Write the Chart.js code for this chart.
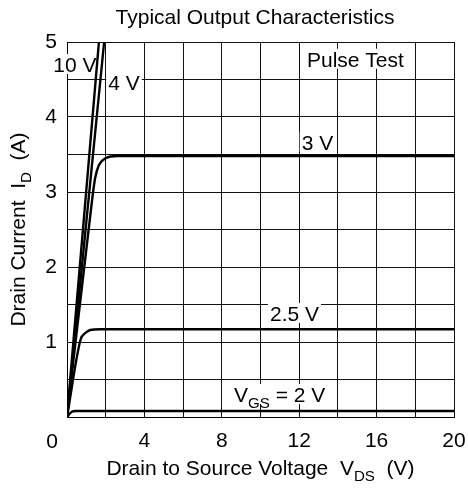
<!DOCTYPE html>
<html>
<head>
<meta charset="utf-8">
<script src="https://cdn.jsdelivr.net/npm/chart.js@4"></script>
<style>
  body { margin: 0; background: #fff; }
  canvas { display: block; }
</style>
</head>
<body>
<canvas id="chart" width="468" height="488"></canvas>
<script>
// curves (VDS in V, ID in A)
const vds10 = [0, 1.65];
const id10 = [0, 5];
const vds4 = [0, 1.92];
const id4 = [0, 5];
const vds3 = [0, 1.3, 1.45, 1.65, 2.0, 2.6, 20];
const id3 = [0, 2.9, 3.18, 3.36, 3.45, 3.48, 3.48];
const vds25 = [0, 0.7, 0.95, 1.2, 1.7, 20];
const id25 = [0, 1.03, 1.12, 1.16, 1.17, 1.17];
const vds2 = [0, 0.25, 0.45, 20];
const id2 = [0, 0.07, 0.08, 0.08];

const xTicks = [4, 8, 12, 16, 20];
const yTicks = [1, 2, 3, 4, 5];

const FONT = '"Liberation Sans", Arial, sans-serif';
const SIZE = 21;

function pts(xs, ys) {
  return xs.map((x, i) => ({ x, y: ys[i] }));
}

function curve(label, xs, ys) {
  return {
    label,
    data: pts(xs, ys),
    borderColor: "#000",
    borderWidth: 2.4,
    pointRadius: 0,
    showLine: true,
    fill: false,
    cubicInterpolationMode: "monotone",
  };
}

// curve labels: text runs [text, subscript?], anchor in data units (left, baseline)
const notes = [
  { runs: [["10 V"]], x: -0.71, y: 4.6 },
  { runs: [["4 V"]], x: 2.13, y: 4.36 },
  { runs: [["3 V"]], x: 12.13, y: 3.56 },
  { runs: [["2.5 V"]], x: 10.49, y: 1.28 },
  { runs: [["V"], ["GS", true], [" = 2 V"]], x: 8.63, y: 0.2 },
  { runs: [["Pulse Test"]], x: 12.4, y: 4.67 },
];

function runWidth(ctx, runs, size) {
  let w = 0;
  runs.forEach(([t, sub]) => {
    ctx.font = (sub ? size * 0.72 : size) + "px " + FONT;
    w += ctx.measureText(t).width;
  });
  return w;
}

function drawRuns(ctx, runs, x, y, size) {
  runs.forEach(([t, sub]) => {
    ctx.font = (sub ? size * 0.72 : size) + "px " + FONT;
    ctx.fillText(t, x, sub ? y + size * 0.28 : y);
    x += ctx.measureText(t).width;
  });
}

const textPlugin = {
  id: "texts",
  beforeDatasetsDraw(chart) {
    const ctx = chart.ctx;
    const xs = chart.scales.x;
    const ys = chart.scales.y;
    ctx.save();
    ctx.textBaseline = "alphabetic";
    ctx.textAlign = "left";
    notes.forEach((n) => {
      const px = xs.getPixelForValue(n.x);
      const py = ys.getPixelForValue(n.y);
      const w = runWidth(ctx, n.runs, SIZE);
      ctx.fillStyle = "#fff";
      ctx.fillRect(px - 2, py - 18, w + 4, 20);
      ctx.fillStyle = "#000";
      drawRuns(ctx, n.runs, px, py, SIZE);
    });
    ctx.restore();
  },
  afterDraw(chart) {
    const ctx = chart.ctx;
    const area = chart.chartArea;
    ctx.save();
    ctx.fillStyle = "#000";
    ctx.textBaseline = "alphabetic";
    ctx.textAlign = "left";

    // title
    const title = [["Typical Output Characteristics"]];
    let w = runWidth(ctx, title, SIZE);
    drawRuns(ctx, title, 255 - w / 2, 24, SIZE);

    // x axis title
    const xt = [["Drain to Source Voltage  V"], ["DS", true], ["  (V)"]];
    w = runWidth(ctx, xt, SIZE);
    drawRuns(ctx, xt, (area.left + area.right) / 2 - w / 2, 475, SIZE);

    // y axis title
    const yt = [["Drain Current  I"], ["D", true], ["  (A)"]];
    w = runWidth(ctx, yt, SIZE);
    ctx.translate(25, (area.top + area.bottom) / 2);
    ctx.rotate(-Math.PI / 2);
    drawRuns(ctx, yt, -w / 2, 0, SIZE);
    ctx.setTransform(1, 0, 0, 1, 0, 0);

    // origin label sits in the corner
    ctx.font = SIZE + "px " + FONT;
    ctx.textAlign = "center";
    ctx.fillText("0", 52, 448);
    ctx.restore();
  },
};

new Chart(document.getElementById("chart"), {
  type: "scatter",
  data: {
    datasets: [
      curve("VGS = 10 V", vds10, id10),
      curve("VGS = 4 V", vds4, id4),
      curve("VGS = 3 V", vds3, id3),
      curve("VGS = 2.5 V", vds25, id25),
      curve("VGS = 2 V", vds2, id2),
    ],
  },
  options: {
    responsive: false,
    animation: false,
    devicePixelRatio: 1,
    layout: { padding: { top: 42, right: 14, left: 0, bottom: 0 } },
    plugins: {
      legend: { display: false },
      tooltip: { enabled: false },
    },
    scales: {
      x: {
        type: "linear",
        min: 0,
        max: 20,
        afterFit: (s) => {
          s.height = 71;
          s.paddingLeft = 0;
          s.paddingRight = 0;
        },
        border: { color: "#000", width: 1 },
        grid: { color: "#111", lineWidth: 1, drawTicks: false },
        ticks: {
          stepSize: 2,
          padding: 12,
          color: "#000",
          font: { family: FONT, size: SIZE },
          callback: (v) => (xTicks.includes(v) ? String(v) : ""),
        },
      },
      y: {
        type: "linear",
        min: 0,
        max: 5,
        afterFit: (s) => {
          s.width = 67;
          s.paddingTop = 0;
          s.paddingBottom = 0;
        },
        border: { color: "#000", width: 1 },
        grid: { color: "#111", lineWidth: 1, drawTicks: false },
        ticks: {
          stepSize: 0.5,
          padding: 10,
          color: "#000",
          font: { family: FONT, size: SIZE },
          callback: (v) => (yTicks.includes(v) ? String(v) : ""),
        },
      },
    },
  },
  plugins: [textPlugin],
});
</script>
</body>
</html>
